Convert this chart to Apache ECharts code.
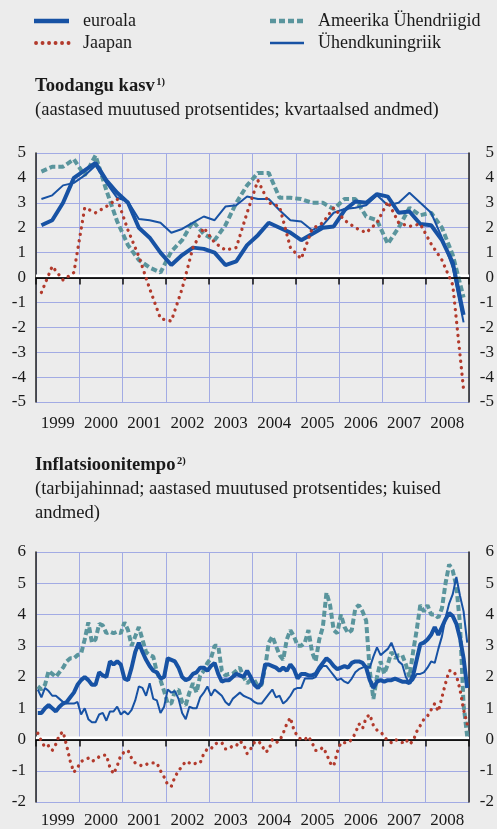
<!DOCTYPE html>
<html>
<head>
<meta charset="utf-8">
<script src="https://cdn.jsdelivr.net/npm/echarts@6/dist/echarts.min.js"></script>
<style>
html, body { margin: 0; padding: 0; background: #ececec; }
#chart { width: 497px; height: 829px; }
</style>
</head>
<body>
<div id="chart"></div>
<script>
// aastad (x-telje sildid)
var years = ['1999', '2000', '2001', '2002', '2003', '2004', '2005', '2006', '2007', '2008'];

// Toodangu kasv, kvartaalsed andmed 1999K1 - 2008K4
var gdpEuro = [2.1, 2.3, 3.0, 4.0, 4.3, 4.6, 3.9, 3.4, 3.0, 2.0, 1.6, 1.0,
  0.5, 0.9, 1.2, 1.15, 1.0, 0.5, 0.65, 1.3, 1.7, 2.2, 2.0, 1.8,
  1.5, 1.75, 2.0, 2.05, 2.7, 3.05, 3.0, 3.35, 3.25, 2.6, 2.65, 2.15,
  2.1, 1.5, 0.6, -1.5];
var gdpUK = [3.15, 3.3, 3.7, 3.8, 4.1, 4.5, 3.8, 3.2, 3.05, 2.35, 2.3, 2.2,
  1.8, 1.95, 2.2, 2.45, 2.3, 2.85, 2.9, 3.25, 3.15, 3.15, 2.7, 2.3,
  2.25, 1.9, 2.1, 2.6, 2.75, 2.8, 2.9, 3.3, 2.9, 3.0, 3.4, 3.0,
  2.6, 1.6, 0.4, -1.8];
var gdpUS = [4.25, 4.45, 4.45, 4.75, 4.1, 4.9, 3.5, 2.25, 1.3, 0.7, 0.4, 0.2,
  1.05, 1.5, 2.25, 1.75, 1.5, 2.1, 3.0, 3.7, 4.2, 4.2, 3.2, 3.2,
  3.15, 3.0, 3.0, 2.75, 3.15, 3.15, 2.45, 2.3, 1.35, 2.0, 2.8, 2.5,
  2.6, 2.0, 0.9, -0.8];
var gdpJP = [-0.6, 0.45, -0.1, 0.2, 2.8, 2.6, 2.85, 3.15, 1.9, 0.85, -0.45, -1.65,
  -1.75, -0.45, 1.2, 2.0, 1.4, 1.1, 1.2, 2.6, 3.9, 3.0, 2.85, 1.2,
  0.75, 1.95, 2.2, 2.8, 2.3, 2.0, 1.8, 2.2, 3.05, 2.2, 2.05, 2.15,
  1.35, 0.7, -0.3, -4.5];

// Inflatsioonitempo, kuised andmed 1999/01 - 2008/12
var cpiEuro = [0.85, 0.85, 1.0, 1.1, 1.0, 0.9, 1.05, 1.15, 1.2, 1.35, 1.5, 1.75,
  1.9, 2.0, 1.9, 1.75, 1.75, 2.15, 2.05, 2.0, 2.5, 2.4, 2.5, 2.4,
  1.95, 1.9, 2.3, 2.8, 3.1, 2.8, 2.55, 2.35, 2.2, 2.15, 1.95, 2.0,
  2.6, 2.55, 2.5, 2.3, 2.0, 1.9, 1.95, 2.1, 2.15, 2.3, 2.3, 2.2,
  2.35, 2.45, 2.1, 1.85, 1.9, 1.9, 2.0, 2.1, 2.05, 2.0, 2.2, 2.0,
  1.75, 1.65, 1.8, 2.4, 2.4, 2.35, 2.3, 2.2, 2.3, 2.2, 2.4, 2.25,
  1.95, 2.1, 2.1, 2.05, 2.05, 2.1, 2.3, 2.45, 2.6, 2.5, 2.35, 2.25,
  2.3, 2.35, 2.3, 2.45, 2.5, 2.5, 2.45, 2.3, 1.9, 1.65, 1.85, 1.9,
  1.85, 1.9, 1.9, 1.95, 1.9, 1.85, 1.85, 1.8, 2.05, 2.55, 3.05, 3.1,
  3.2, 3.35, 3.6, 3.35, 3.6, 3.85, 4.05, 3.95, 3.7, 3.25, 2.6, 1.65];
var cpiUK = [1.6, 1.35, 1.65, 1.55, 1.4, 1.4, 1.3, 1.2, 1.15, 1.15, 1.15, 1.2,
  0.8, 1.0, 0.65, 0.55, 0.55, 0.8, 0.85, 0.6, 0.9, 0.9, 1.05, 0.8,
  0.9, 0.8, 0.95, 1.25, 1.7, 1.65, 1.4, 1.8, 1.3, 1.25, 0.85, 1.05,
  1.6, 1.5, 1.55, 1.3, 0.85, 0.65, 1.05, 1.0, 1.0, 1.35, 1.5, 1.7,
  1.4, 1.6, 1.5, 1.4, 1.2, 1.1, 1.3, 1.4, 1.5, 1.4, 1.35, 1.3,
  1.2, 1.15, 1.15, 1.3, 1.45, 1.6, 1.35, 1.4, 1.15, 1.25, 1.4, 1.6,
  1.65, 1.65, 1.95, 1.95, 1.95, 2.0, 2.2, 2.35, 2.35, 2.2, 2.05, 1.9,
  1.95, 1.85, 1.8, 1.95, 2.15, 2.25, 2.3, 2.35, 2.3, 2.65, 2.95, 2.7,
  2.8, 2.9, 3.1, 2.8, 2.5, 2.4, 2.0, 1.8, 1.9, 2.1, 2.1, 2.15,
  2.3, 2.5, 2.45, 2.9, 3.3, 3.9, 4.35, 4.65, 5.2, 4.6, 4.1, 3.1];
var cpiUS = [1.7, 1.6, 1.75, 2.2, 2.1, 2.0, 2.15, 2.3, 2.5, 2.6, 2.6, 2.7,
  2.75, 3.2, 3.75, 3.1, 3.2, 3.7, 3.65, 3.4, 3.45, 3.4, 3.45, 3.4,
  3.75, 3.5, 3.0, 3.3, 3.6, 3.2, 2.8, 2.7, 2.65, 2.15, 1.9, 1.55,
  1.15, 1.15, 1.55, 1.6, 1.2, 1.1, 1.5, 1.8, 1.5, 2.05, 2.2, 2.45,
  2.6, 3.0, 3.0, 2.2, 2.05, 2.1, 2.1, 2.2, 2.3, 2.0, 1.8, 1.9,
  1.9, 1.7, 1.75, 2.3, 3.1, 3.3, 3.0, 2.7, 2.55, 3.2, 3.5, 3.3,
  3.0, 3.0, 3.1, 3.5, 2.8, 2.5, 3.2, 3.6, 4.7, 4.3, 3.5, 3.4,
  4.0, 3.6, 3.4, 3.5, 4.2, 4.3, 4.1, 3.8, 2.2, 1.3, 2.0, 2.5,
  2.1, 2.4, 2.8, 2.6, 2.7, 2.7, 2.4, 2.0, 2.8, 3.5, 4.3, 4.1,
  4.3, 4.0, 4.0, 3.9, 4.2, 5.0, 5.6, 5.4, 4.9, 3.7, 1.1, 0.1];
var cpiJP = [0.2, -0.05, -0.25, -0.2, -0.35, -0.15, 0.15, 0.25, -0.2, -0.7, -1.05, -0.9,
  -0.7, -0.65, -0.6, -0.7, -0.65, -0.55, -0.5, -0.5, -0.9, -1.1, -0.85, -0.5,
  -0.4, -0.35, -0.6, -0.75, -0.8, -0.85, -0.8, -0.75, -0.75, -0.75, -1.0, -1.2,
  -1.45, -1.5, -1.2, -1.0, -0.85, -0.7, -0.75, -0.8, -0.75, -0.75, -0.45, -0.3,
  -0.3, -0.15, -0.1, -0.1, -0.3, -0.3, -0.2, -0.2, -0.05, -0.15, -0.45, -0.3,
  -0.1, -0.05, -0.15, -0.4, -0.35, 0.0, -0.1, -0.05, 0.2, 0.5, 0.7, 0.3,
  0.1, 0.0, 0.0, 0.1, -0.1, -0.35, -0.35, -0.25, -0.45, -0.75, -0.85, -0.4,
  -0.1, -0.1, -0.1, 0.0, 0.2, 0.5, 0.35, 0.7, 0.8, 0.45, 0.3, 0.25,
  0.1, -0.05, -0.1, 0.0, -0.05, -0.1, 0.0, -0.15, -0.05, 0.25, 0.45, 0.65,
  0.75, 0.95, 1.15, 0.9, 1.35, 1.8, 2.2, 2.2, 2.05, 1.6, 0.95, 0.5];

var FONT = "'Liberation Serif', 'Times New Roman', serif";
var BLUE = '#1752a4';
var TEAL = '#5a959d';
var RED = '#b23a2c';
var GRIDC = '#a2abe4';
var TXT = '#1a1a1a';

// perioodi keskpunkt aastates
function toXY(arr, perYear) {
  return arr.map(function (v, i) { return [1999 + (i + 0.5) / perYear, v]; });
}

var euroStyle = { color: BLUE, width: 4 };
var ukStyle = { color: BLUE, width: 2 };
var usStyle = { color: TEAL, width: 4, type: [6, 3] };
var jpStyle = { color: RED, width: 3.3, type: [0.1, 6.4], cap: 'round' };

function line(name, data, gi, style, z) {
  return {
    type: 'line', name: name, data: data,
    xAxisIndex: gi * 2, yAxisIndex: gi * 2,
    symbol: 'none', showSymbol: false, silent: true,
    lineStyle: style, z: z
  };
}

function zeroMarks(s, band) {
  s.markArea = {
    silent: true, itemStyle: { color: '#ffffff' },
    data: [[{ yAxis: 0 }, { yAxis: band }]]
  };
  s.markLine = {
    silent: true, symbol: 'none', label: { show: false },
    lineStyle: { color: '#000', width: 1.5, type: 'solid' },
    data: [{ yAxis: 0 }]
  };
  return s;
}

function xAxes(gi, margin) {
  return [
    {
      type: 'value', gridIndex: gi, min: 1999, max: 2009, interval: 1, position: 'bottom',
      axisLine: { show: false }, axisTick: { show: false }, axisLabel: { show: false },
      splitLine: { show: true, lineStyle: { color: GRIDC, width: 1 } }
    },
    {
      type: 'category', gridIndex: gi, data: years, position: 'bottom', boundaryGap: true,
      axisLine: { show: true, lineStyle: { color: '#111', width: 1.5 } },
      axisTick: { show: true, interval: 0, length: 7, lineStyle: { color: '#111', width: 1.5 } },
      axisLabel: { interval: 0, margin: margin, color: TXT, fontFamily: FONT, fontSize: 17 },
      splitLine: { show: false }
    }
  ];
}

function yAxes(gi, min, max) {
  return [
    {
      type: 'value', gridIndex: gi, min: min, max: max, interval: 1, position: 'left',
      axisLine: { show: true, lineStyle: { color: '#222', width: 1.5 } },
      axisTick: { show: false },
      axisLabel: { margin: 10, color: TXT, fontFamily: FONT, fontSize: 17 },
      splitLine: { show: true, lineStyle: { color: GRIDC, width: 1 } }
    },
    {
      type: 'value', gridIndex: gi, min: min, max: max, interval: 1, position: 'right',
      axisLine: { show: true, lineStyle: { color: '#222', width: 1.5 } },
      axisTick: { show: false },
      axisLabel: { margin: 25, align: 'right', color: TXT, fontFamily: FONT, fontSize: 17 },
      splitLine: { show: false }
    }
  ];
}

function txt(x, y, s, font) {
  return {
    type: 'text', x: x, y: y, silent: true,
    style: { text: s, font: font, fill: TXT, verticalAlign: 'middle' }
  };
}
function seg(x1, x2, y, st) {
  return {
    type: 'line', silent: true,
    shape: { x1: x1, y1: y, x2: x2, y2: y },
    style: { stroke: st.color, lineWidth: st.width + 0.5, lineDash: st.type === undefined ? null : st.type, lineCap: st.cap || 'butt' }
  };
}

var LEG = '18px ' + FONT;
var REG = '18.6px ' + FONT;
var BOLD = 'bold 18.6px ' + FONT;
var SUP = 'bold 10.5px ' + FONT;

// pealkirja laius, et ülaindeks jääks kohe teksti järele
var ctx = document.createElement('canvas').getContext('2d');
ctx.font = BOLD;
var w1 = ctx.measureText('Toodangu kasv').width;
var w2 = ctx.measureText('Inflatsioonitempo').width;

var myChart = echarts.init(document.getElementById('chart'));
myChart.setOption({
  backgroundColor: '#ececec',
  animation: false,
  grid: [
    { left: 36, right: 27, top: 153, height: 249 },
    { left: 36, right: 27, top: 552, height: 251 }
  ],
  xAxis: xAxes(0, 13).concat(xAxes(1, 10)),
  yAxis: yAxes(0, -5, 5).concat(yAxes(1, -2, 6)),
  graphic: [
    seg(34, 69, 21, euroStyle), txt(83, 21, 'euroala', LEG),
    seg(36, 69, 43, jpStyle), txt(83, 43, 'Jaapan', LEG),
    seg(270, 304, 21, usStyle), txt(318, 21, 'Ameerika Ühendriigid', LEG),
    seg(270, 304, 43, ukStyle), txt(318, 43, 'Ühendkuningriik', LEG),
    txt(35, 86, 'Toodangu kasv', BOLD), txt(35 + w1 + 1.5, 82, '1)', SUP),
    txt(35, 110, '(aastased muutused protsentides; kvartaalsed andmed)', REG),
    txt(35, 465, 'Inflatsioonitempo', BOLD), txt(35 + w2 + 1.5, 461, '2)', SUP),
    txt(35, 489, '(tarbijahinnad; aastased muutused protsentides; kuised', REG),
    txt(35, 513, 'andmed)', REG)
  ],
  series: [
    zeroMarks(line('Ameerika Ühendriigid', toXY(gdpUS, 4), 0, usStyle, 2), 0.12),
    line('Ühendkuningriik', toXY(gdpUK, 4), 0, ukStyle, 3),
    line('euroala', toXY(gdpEuro, 4), 0, euroStyle, 4),
    line('Jaapan', toXY(gdpJP, 4), 0, jpStyle, 5),
    zeroMarks(line('Ameerika Ühendriigid', toXY(cpiUS, 12), 1, usStyle, 2), 0.1),
    line('Ühendkuningriik', toXY(cpiUK, 12), 1, ukStyle, 3),
    line('euroala', toXY(cpiEuro, 12), 1, euroStyle, 4),
    line('Jaapan', toXY(cpiJP, 12), 1, jpStyle, 5)
  ]
});
</script>
</body>
</html>
